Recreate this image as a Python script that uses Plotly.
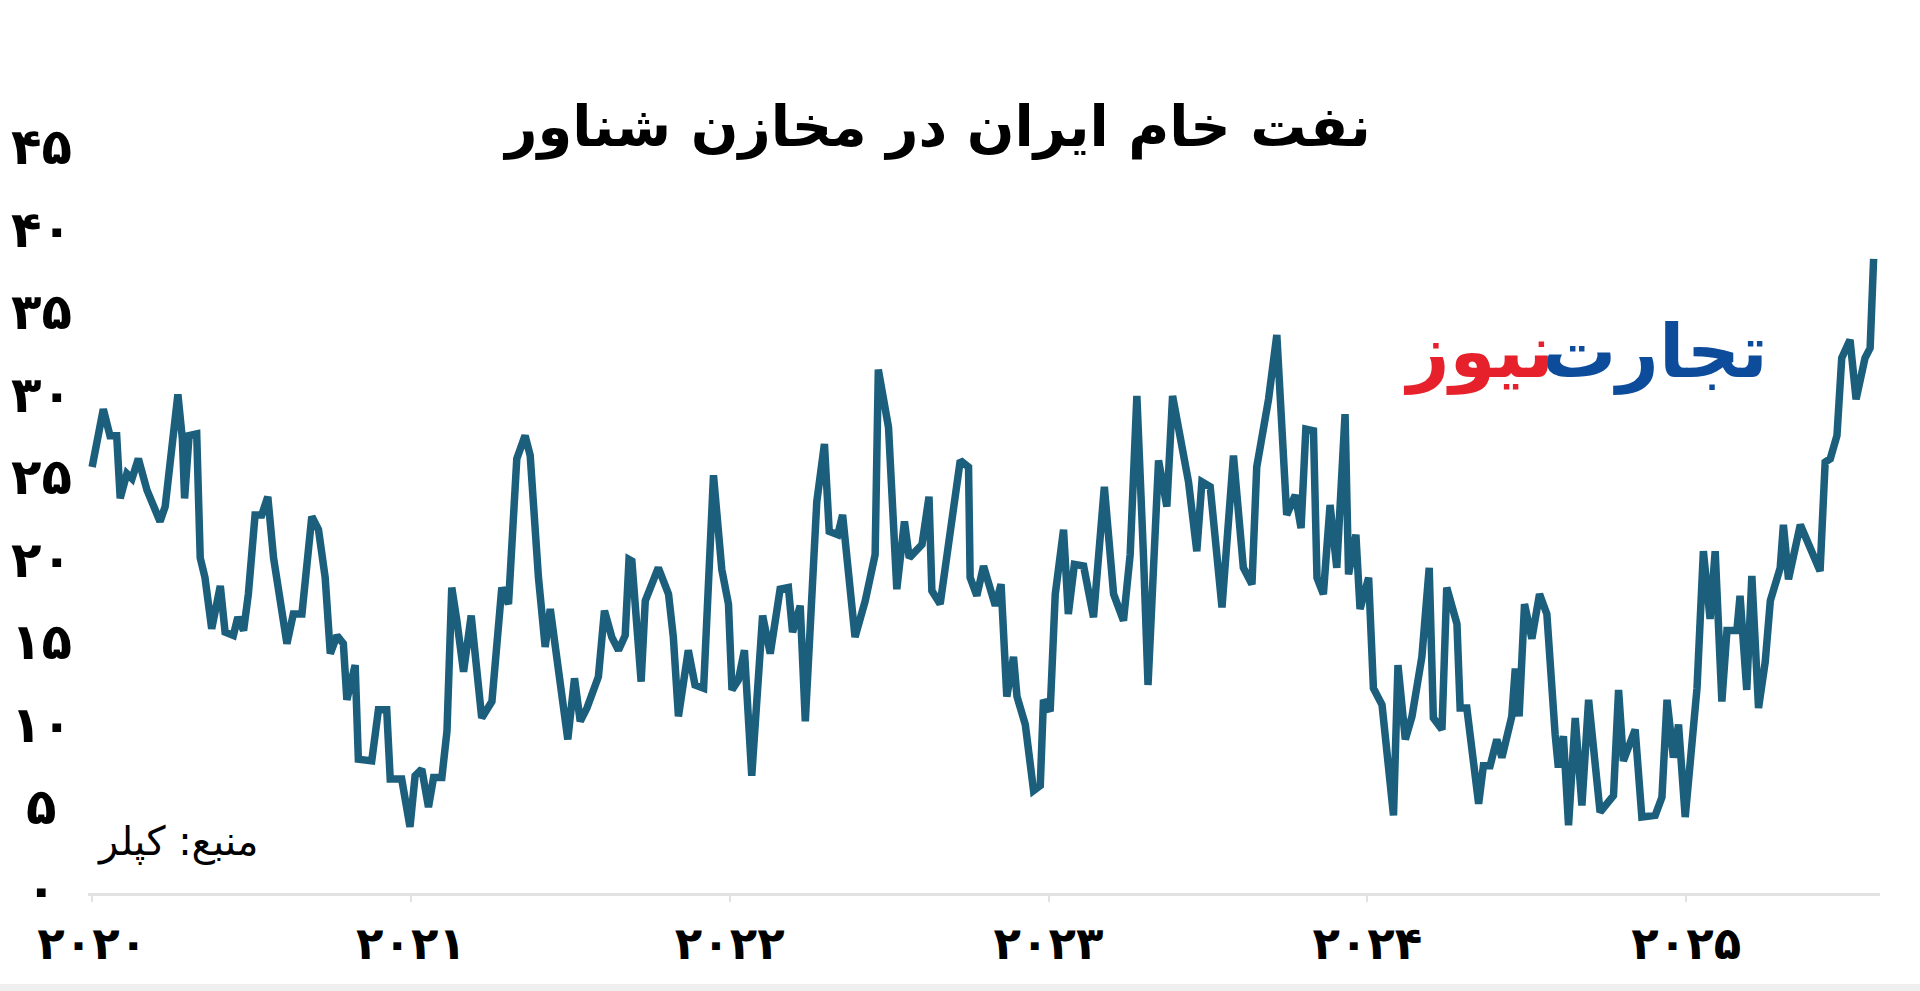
import plotly.graph_objects as go

# Iran crude oil in floating storage (million barrels), Kpler; x = decimal year
years = [
    2020.000, 2020.035, 2020.056, 2020.077, 2020.088, 2020.109, 2020.125, 2020.145, 2020.172, 2020.213,
    2020.229, 2020.255, 2020.269, 2020.283, 2020.290, 2020.304, 2020.328, 2020.339, 2020.354, 2020.375,
    2020.402, 2020.417, 2020.443, 2020.457, 2020.475, 2020.490, 2020.511, 2020.532, 2020.551, 2020.569,
    2020.590, 2020.611, 2020.631, 2020.658, 2020.689, 2020.710, 2020.731, 2020.747, 2020.768, 2020.788,
    2020.799, 2020.825, 2020.835, 2020.862, 2020.877, 2020.898, 2020.924, 2020.935, 2020.971, 2020.997,
    2021.013, 2021.034, 2021.055, 2021.071, 2021.097, 2021.113, 2021.128, 2021.144, 2021.165, 2021.189,
    2021.207, 2021.222, 2021.254, 2021.274, 2021.285, 2021.306, 2021.316, 2021.332, 2021.358, 2021.374,
    2021.400, 2021.421, 2021.437, 2021.463, 2021.492, 2021.513, 2021.531, 2021.552, 2021.588, 2021.607,
    2021.630, 2021.651, 2021.672, 2021.684, 2021.693, 2021.722, 2021.735, 2021.776, 2021.808, 2021.823,
    2021.839, 2021.870, 2021.891, 2021.918, 2021.949, 2021.975, 2021.996, 2022.007, 2022.027, 2022.046,
    2022.069, 2022.103, 2022.127, 2022.158, 2022.184, 2022.197, 2022.221, 2022.237, 2022.273, 2022.297,
    2022.312, 2022.339, 2022.354, 2022.393, 2022.425, 2022.456, 2022.466, 2022.498, 2022.524, 2022.548,
    2022.563, 2022.603, 2022.625, 2022.634, 2022.660, 2022.723, 2022.749, 2022.754, 2022.775, 2022.796,
    2022.833, 2022.851, 2022.869, 2022.890, 2022.901, 2022.927, 2022.953, 2022.974, 2022.984, 2023.005,
    2023.021, 2023.047, 2023.062, 2023.081, 2023.110, 2023.141, 2023.175, 2023.204, 2023.235, 2023.256,
    2023.277, 2023.298, 2023.312, 2023.345, 2023.371, 2023.389, 2023.418, 2023.439, 2023.465, 2023.481,
    2023.507, 2023.544, 2023.580, 2023.611, 2023.638, 2023.653, 2023.690, 2023.716, 2023.747, 2023.774,
    2023.792, 2023.807, 2023.831, 2023.842, 2023.862, 2023.883, 2023.904, 2023.915, 2023.930, 2023.941,
    2023.964, 2023.977, 2024.004, 2024.019, 2024.046, 2024.082, 2024.096, 2024.119, 2024.140, 2024.171,
    2024.194, 2024.207, 2024.234, 2024.249, 2024.281, 2024.291, 2024.312, 2024.349, 2024.364, 2024.385,
    2024.406, 2024.422, 2024.453, 2024.464, 2024.476, 2024.493, 2024.516, 2024.540, 2024.563, 2024.589,
    2024.599, 2024.615, 2024.631, 2024.652, 2024.673, 2024.694, 2024.730, 2024.772, 2024.788, 2024.803,
    2024.840, 2024.861, 2024.903, 2024.924, 2024.940, 2024.960, 2024.976, 2024.997, 2025.034, 2025.054,
    2025.075, 2025.091, 2025.112, 2025.128, 2025.159, 2025.169, 2025.190, 2025.206, 2025.227, 2025.248,
    2025.264, 2025.295, 2025.305, 2025.321, 2025.358, 2025.420, 2025.436, 2025.452, 2025.473, 2025.488,
    2025.514, 2025.533, 2025.561, 2025.577, 2025.588,
]
storage_mb = [
    25.8, 29.3, 27.7, 27.7, 23.9, 25.4, 25.1, 26.3, 24.4, 22.5,
    23.4, 28.0, 30.2, 27.5, 23.9, 27.7, 27.8, 20.3, 19.1, 16.0,
    18.6, 15.8, 15.6, 16.7, 15.9, 18.1, 22.9, 22.9, 24.0, 20.3,
    17.9, 15.1, 16.9, 16.9, 22.8, 22.0, 19.1, 14.5, 15.6, 15.1,
    11.7, 13.8, 8.1, 8.1, 8.0, 11.1, 11.1, 6.9, 6.9, 4.0,
    7.1, 7.5, 5.2, 7.0, 7.0, 9.8, 18.5, 16.5, 13.4, 16.8,
    13.1, 10.6, 11.6, 16.2, 18.5, 17.5, 21.3, 26.3, 27.7, 26.5,
    19.1, 14.9, 17.2, 13.4, 9.3, 13.0, 10.4, 11.2, 13.1, 17.1,
    15.5, 14.7, 15.6, 20.2, 20.1, 12.8, 17.7, 19.7, 18.1, 15.5,
    10.7, 14.7, 12.6, 12.4, 25.3, 19.6, 17.5, 12.3, 12.9, 14.7,
    7.1, 16.8, 14.5, 18.4, 18.5, 15.8, 17.4, 10.4, 23.7, 27.2,
    21.9, 21.7, 22.9, 15.5, 17.7, 20.5, 31.7, 28.2, 18.4, 22.5,
    20.3, 21.1, 24.0, 18.3, 17.5, 26.2, 25.8, 19.1, 18.0, 19.8,
    17.4, 18.7, 11.9, 14.3, 11.9, 10.2, 6.2, 6.5, 11.7, 11.0,
    18.1, 22.0, 16.9, 19.9, 19.8, 16.7, 24.6, 18.1, 16.5, 20.5,
    30.1, 20.3, 12.6, 26.2, 23.4, 30.1, 26.8, 24.9, 20.7, 24.9,
    24.6, 17.3, 26.5, 19.7, 18.7, 25.8, 29.9, 33.8, 22.9, 24.1,
    22.1, 28.1, 28.0, 19.1, 18.1, 23.5, 19.7, 23.6, 29.0, 19.3,
    21.7, 17.2, 19.1, 12.4, 11.4, 4.7, 13.8, 9.3, 10.7, 14.3,
    19.7, 10.6, 9.9, 18.5, 16.3, 11.2, 11.2, 5.4, 7.7, 7.7,
    9.3, 8.2, 10.7, 13.6, 10.7, 17.5, 15.4, 18.1, 16.9, 9.6,
    7.6, 9.5, 4.1, 10.6, 5.3, 11.7, 4.9, 5.9, 12.3, 8.0,
    9.9, 4.6, 4.7, 5.8, 11.7, 8.2, 10.2, 4.6, 12.4, 20.7,
    16.6, 20.7, 11.6, 15.9, 15.9, 18.0, 12.3, 19.2, 11.2, 14.0,
    17.7, 19.7, 22.3, 19.0, 22.3, 19.5, 26.1, 26.3, 27.7, 32.4,
    33.5, 29.9, 32.4, 33.0, 38.4,
]

x_tick_vals = [2020, 2021, 2022, 2023, 2024, 2025]
x_tick_text = ["۲۰۲۰", "۲۰۲۱", "۲۰۲۲", "۲۰۲۳", "۲۰۲۴", "۲۰۲۵"]
y_tick_vals = [0, 5, 10, 15, 20, 25, 30, 35, 40, 45]
y_tick_text = ["۰", "۵", "۱۰", "۱۵", "۲۰", "۲۵", "۳۰", "۳۵", "۴۰", "۴۵"]

title_text = "نفت خام ایران در مخازن شناور"
source_text = "منبع: کپلر"
logo_blue = "تجارت"
logo_red = "نیوز"

FONT = "DejaVu Sans"

fig = go.Figure()
fig.add_trace(go.Scatter(
    x=years, y=storage_mb, mode="lines",
    line=dict(color="#1b5f7c", width=7.5),
    hoverinfo="x+y", showlegend=False,
))

# y-axis labels, centred in the left margin as in the original (value-positioned on the y axis)
y_label_annotations = [
    dict(text=f"<b>{t}</b>", xref="paper", yref="y", x=(41 - 88) / 1792, y=v,
         xanchor="center", yanchor="middle", yshift=3, showarrow=False,
         font=dict(family=FONT, size=50, color="black"))
    for v, t in zip(y_tick_vals, y_tick_text)
]

fig.update_layout(
    width=1920, height=991,
    paper_bgcolor="white", plot_bgcolor="white",
    margin=dict(l=88, r=40, t=150, b=98),
    title=dict(
        text=f"<b>{title_text}</b>",
        font=dict(family=FONT, size=56, color="black"),
        x=938 / 1920, xref="container", xanchor="center",
        y=1 - 126 / 991, yref="container", yanchor="middle",
    ),
    xaxis=dict(
        range=[2019.987, 2025.608],
        tickmode="array", tickvals=x_tick_vals, ticktext=x_tick_text,
        tickfont=dict(family=FONT, size=45, color="black", weight="bold"),
        showgrid=False, zeroline=False,
        showline=True, linecolor="#e2e2e2", linewidth=3,
        ticks="outside", ticklen=6, tickwidth=2, tickcolor="#e2e2e2",
        ticklabelstandoff=3,
    ),
    yaxis=dict(
        range=[0, 45],
        tickmode="array", tickvals=y_tick_vals,
        showticklabels=False,
        showgrid=False, zeroline=False, showline=False, ticks="",
    ),
    annotations=y_label_annotations + [
        dict(text=source_text, xref="paper", yref="paper",
             x=(95 - 88) / 1792, y=(893 - 842) / 742.5, xanchor="left", yanchor="middle",
             showarrow=False, font=dict(family=FONT, size=40, color="black")),
        dict(text=f"<b>{logo_blue}</b>", xref="paper", yref="paper",
             x=(1770 - 88) / 1792, y=(893 - 352) / 742.5, xanchor="right", yanchor="middle",
             showarrow=False, font=dict(family=FONT, size=74, color="#0d4c9b")),
        dict(text=f"<b>{logo_red}</b>", xref="paper", yref="paper",
             x=(1556 - 88) / 1792, y=(893 - 352) / 742.5, xanchor="right", yanchor="middle",
             showarrow=False, font=dict(family=FONT, size=74, color="#e6212b")),
    ],
    shapes=[
        dict(type="rect", xref="paper", yref="paper", layer="below",
             x0=-0.06, x1=1.03, y0=-(991 - 893) / 742.5, y1=-(984 - 893) / 742.5,
             fillcolor="#efefef", line=dict(width=0)),
    ],
)

fig.write_html(
    "out.html",
    config={"displayModeBar": False},
    post_script="document.body.style.margin='0';document.body.style.padding='0';",
)
